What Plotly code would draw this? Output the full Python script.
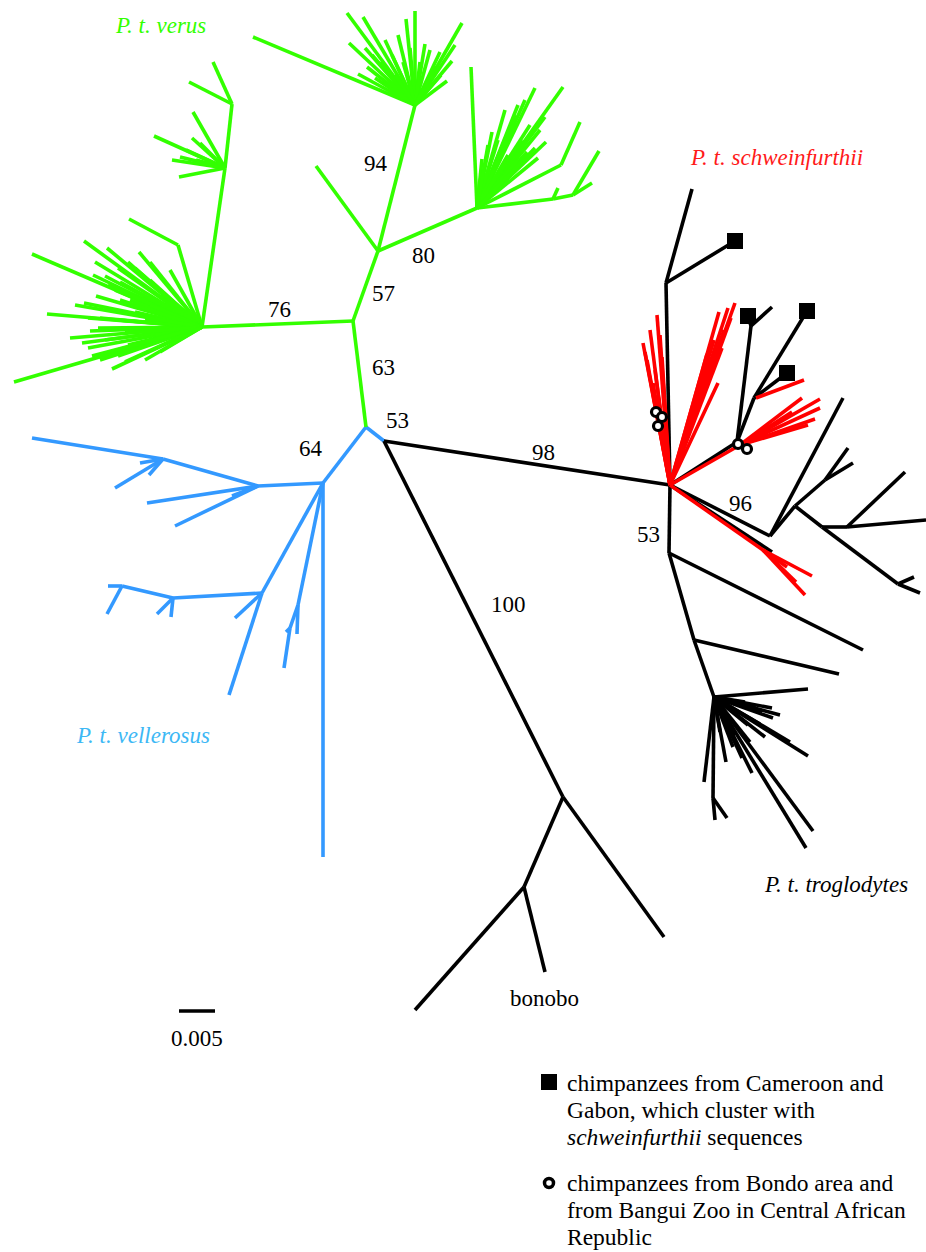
import plotly.graph_objects as go

# ---------------- tree data (node x, node y, parent index; -1 = no branch drawn) ----------------
verus_nodes = [
    (366, 427, -1), (353, 321, 0), (202, 327, 1), (378, 251, 1), (415, 105, 3),
    (477, 208, 3), (316, 166, 3), (225, 168, 2), (232, 104, 7), (178, 245, 2),
    (561, 165, 5), (553, 199, 5), (573, 195, 11),
    (213, 62, 8), (189, 82, 8),
    (193, 112, 7), (154, 136, 7), (192, 138, 7), (180, 157, 7), (179, 177, 7),
    (200, 143, 7), (186, 150, 7), (196, 160, 7), (172, 160, 7),
    (129, 219, 9), (580, 122, 10), (558, 188, 11), (599, 151, 12), (592, 183, 12),
    # large basal fan
    (32, 254, 2), (84, 241, 2), (107, 248, 2), (139, 252, 2), (47, 314, 2), (84, 303, 2),
    (14, 382, 2), (112, 369, 2), (82, 343, 2), (88, 348, 2), (90, 331, 2), (93, 275, 2),
    (105, 276, 2), (115, 290, 2), (100, 360, 2), (160, 352, 2), (150, 262, 2), (120, 282, 2),
    (130, 300, 2), (100, 318, 2), (110, 310, 2), (125, 332, 2), (105, 340, 2), (140, 345, 2),
    (118, 356, 2), (150, 280, 2), (160, 296, 2), (96, 296, 2), (170, 270, 2), (135, 268, 2),
    (145, 320, 2), (155, 335, 2), (128, 262, 2),
    (95, 262, 2), (118, 268, 2), (108, 285, 2), (88, 318, 2), (98, 328, 2), (118, 320, 2),
    (128, 345, 2), (110, 352, 2), (140, 330, 2), (150, 305, 2), (165, 320, 2), (135, 312, 2),
    (120, 300, 2), (75, 305, 2), (70, 338, 2), (92, 356, 2), (125, 362, 2), (145, 360, 2),
    # top fan
    (253, 37, 4), (347, 13, 4), (363, 17, 4), (406, 19, 4), (415, 11, 4), (462, 23, 4),
    (452, 61, 4), (447, 81, 4), (430, 50, 4), (349, 43, 4), (365, 48, 4), (358, 74, 4),
    (367, 67, 4), (403, 62, 4), (380, 62, 4), (392, 55, 4), (420, 62, 4), (436, 66, 4),
    (375, 78, 4), (441, 75, 4), (410, 48, 4), (425, 44, 4), (386, 70, 4),
    (385, 40, 4), (398, 35, 4), (372, 55, 4), (455, 45, 4), (440, 52, 4), (395, 75, 4),
    (430, 78, 4),
    # right fan
    (471, 67, 5), (535, 88, 5), (563, 87, 5), (518, 105, 5), (546, 142, 5), (492, 132, 5),
    (482, 159, 5), (545, 117, 5), (510, 128, 5), (522, 140, 5), (503, 148, 5), (530, 125, 5),
    (527, 152, 5), (538, 158, 5), (498, 140, 5), (515, 115, 5),
    (505, 110, 5), (525, 100, 5), (540, 130, 5), (518, 160, 5), (508, 155, 5), (488, 145, 5),
    (535, 148, 5),
]

vellerosus_nodes = [
    (366, 427, -1), (384, 441, 0), (323, 483, 0), (323, 857, 2), (258, 486, 2),
    (163, 459, 4), (32, 438, 5), (115, 488, 5), (149, 475, 5), (140, 463, 5),
    (147, 503, 4), (175, 526, 4), (232, 496, 4), (262, 593, 2), (229, 695, 13),
    (235, 618, 13), (173, 598, 13), (122, 586, 16), (108, 586, 17), (107, 614, 17),
    (157, 614, 16), (171, 617, 16), (298, 605, 2), (297, 634, 22), (290, 628, 22),
    (284, 668, 24), (286, 632, 24),
]

troglodytes_nodes = [
    (384, 441, -1), (670, 485, 0), (563, 797, 0), (664, 937, 2), (524, 887, 2),
    (415, 1010, 4), (545, 972, 4), (666, 283, 1), (692, 189, 7), (735, 241, 7),
    (737, 442, 1), (751, 326, 10), (748, 316, 11), (772, 307, 11), (754, 398, 10),
    (807, 311, 14), (787, 373, 14), (770, 536, 1), (843, 398, 17), (795, 506, 17),
    (825, 480, 19), (848, 448, 20), (853, 463, 20), (822, 527, 19), (847, 527, 23),
    (905, 472, 24), (926, 520, 24), (898, 584, 23), (914, 577, 27), (920, 593, 27),
    (772, 552, 1), (669, 553, 1), (863, 650, 31), (694, 640, 31), (839, 674, 33),
    (714, 697, 33), (713, 798, 35), (715, 820, 36), (727, 818, 36),
    (808, 689, 35), (772, 708, 35), (780, 715, 35), (773, 718, 35), (765, 737, 35),
    (808, 756, 35), (813, 831, 35), (806, 848, 35), (752, 773, 35), (733, 747, 35),
    (720, 732, 35), (704, 782, 35), (745, 702, 35), (756, 706, 35), (760, 724, 35),
    (742, 758, 35), (726, 762, 35), (790, 742, 35), (750, 742, 35), (738, 714, 35),
    (762, 712, 35), (748, 725, 35), (735, 735, 35),
]

schweinfurthii_nodes = [
    (670, 485, -1), (740, 445, 0), (763, 550, 0), (756, 398, -1),
    (820, 399, 1), (820, 408, 1), (815, 419, 1), (802, 398, 1), (792, 412, 1), (808, 425, 1),
    (812, 576, 2), (805, 595, 2), (787, 567, 2), (796, 582, 2),
    (804, 380, 3),
    (643, 343, 0), (657, 315, 0), (662, 357, 0), (647, 360, 0), (653, 383, 0), (650, 330, 0),
    (660, 335, 0), (645, 352, 0), (655, 370, 0), (658, 395, 0),
    (735, 303, 0), (728, 308, 0), (719, 312, 0), (707, 354, 0), (718, 383, 0), (710, 363, 0),
    (724, 330, 0), (714, 340, 0), (731, 318, 0), (722, 348, 0),
]

cameroon_x = [735, 748, 807, 787]
cameroon_y = [241, 316, 311, 373]
bondo_x = [656, 662, 658, 738, 747]
bondo_y = [412, 417, 426, 444, 449]

bootstrap_text = ["94", "80", "57", "76", "63", "53", "64", "98", "100", "96", "53"]
bootstrap_x = [376, 423, 383, 279, 383, 397, 311, 543, 508, 740, 648]
bootstrap_y = [163, 255, 293, 309, 367, 420, 448, 452, 604, 503, 534]

clade_text = ["<i>P. t. verus</i>", "<i>P. t. schweinfurthii</i>", "<i>P. t. vellerosus</i>",
              "<i>P. t. troglodytes</i>", "bonobo"]
clade_x = [160, 776, 143, 836, 544]
clade_y = [25, 157, 735, 884, 998]
clade_color = ["#33FF00", "#FF1A1A", "#3DB8F5", "#000000", "#000000"]

scale_x = [179, 215]
scale_y = [1011, 1011]
scale_text = "0.005"

legend_lines_1 = ["chimpanzees from Cameroon and", "Gabon, which cluster with",
                  "<i>schweinfurthii</i> sequences"]
legend_lines_2 = ["chimpanzees from Bondo area and", "from Bangui Zoo in Central African",
                  "Republic"]

FONT = "Liberation Serif, Times New Roman, serif"


def segments(nodes):
    xs, ys = [], []
    for x, y, p in nodes:
        if p >= 0:
            px, py, _ = nodes[p]
            xs += [px, x, None]
            ys += [py, y, None]
    return xs, ys


fig = go.Figure()
for nodes, color in [(vellerosus_nodes, "#3399FF"), (verus_nodes, "#33FF00"),
                     (troglodytes_nodes, "#000000"), (schweinfurthii_nodes, "#FF0000")]:
    sx, sy = segments(nodes)
    fig.add_trace(go.Scatter(x=sx, y=sy, mode="lines", line=dict(color=color, width=3.6),
                             hoverinfo="skip"))

fig.add_trace(go.Scatter(x=scale_x, y=scale_y, mode="lines", line=dict(color="black", width=3.5)))

fig.add_trace(go.Scatter(x=cameroon_x, y=cameroon_y, mode="markers",
                         marker=dict(symbol="square", size=16, color="black")))
fig.add_trace(go.Scatter(x=bondo_x, y=bondo_y, mode="markers",
                         marker=dict(symbol="circle", size=9, color="white",
                                     line=dict(color="black", width=3.2))))
# legend markers
fig.add_trace(go.Scatter(x=[549], y=[1082], mode="markers",
                         marker=dict(symbol="square", size=16, color="black")))
fig.add_trace(go.Scatter(x=[549], y=[1183], mode="markers",
                         marker=dict(symbol="circle", size=9, color="white",
                                     line=dict(color="black", width=3.5))))

ann = []
for t, x, y in zip(bootstrap_text, bootstrap_x, bootstrap_y):
    ann.append(dict(x=x, y=y, text=t, showarrow=False, xanchor="center", yanchor="middle",
                    font=dict(family=FONT, size=23, color="black")))
for t, x, y, c in zip(clade_text, clade_x, clade_y, clade_color):
    ann.append(dict(x=x, y=y, text=t, showarrow=False, xanchor="center", yanchor="middle",
                    font=dict(family=FONT, size=23, color=c)))
ann.append(dict(x=197, y=1038, text=scale_text, showarrow=False, xanchor="center",
                yanchor="middle", font=dict(family=FONT, size=23, color="black")))
for i, t in enumerate(legend_lines_1):
    ann.append(dict(x=565, y=1083 + 27 * i, text=t, showarrow=False, xanchor="left",
                    yanchor="middle", font=dict(family=FONT, size=23.5, color="black")))
for i, t in enumerate(legend_lines_2):
    ann.append(dict(x=565, y=1183 + 27 * i, text=t, showarrow=False, xanchor="left",
                    yanchor="middle", font=dict(family=FONT, size=23.5, color="black")))

fig.update_layout(
    width=926, height=1252, margin=dict(l=0, r=0, t=0, b=0),
    paper_bgcolor="white", plot_bgcolor="white", showlegend=False,
    xaxis=dict(range=[0, 926], visible=False, fixedrange=True),
    yaxis=dict(range=[1252, 0], visible=False, fixedrange=True),
    annotations=ann,
)
fig.write_html("out.html", config={"displayModeBar": False},
               post_script="document.body.style.margin='0';document.body.style.overflow='hidden';")
